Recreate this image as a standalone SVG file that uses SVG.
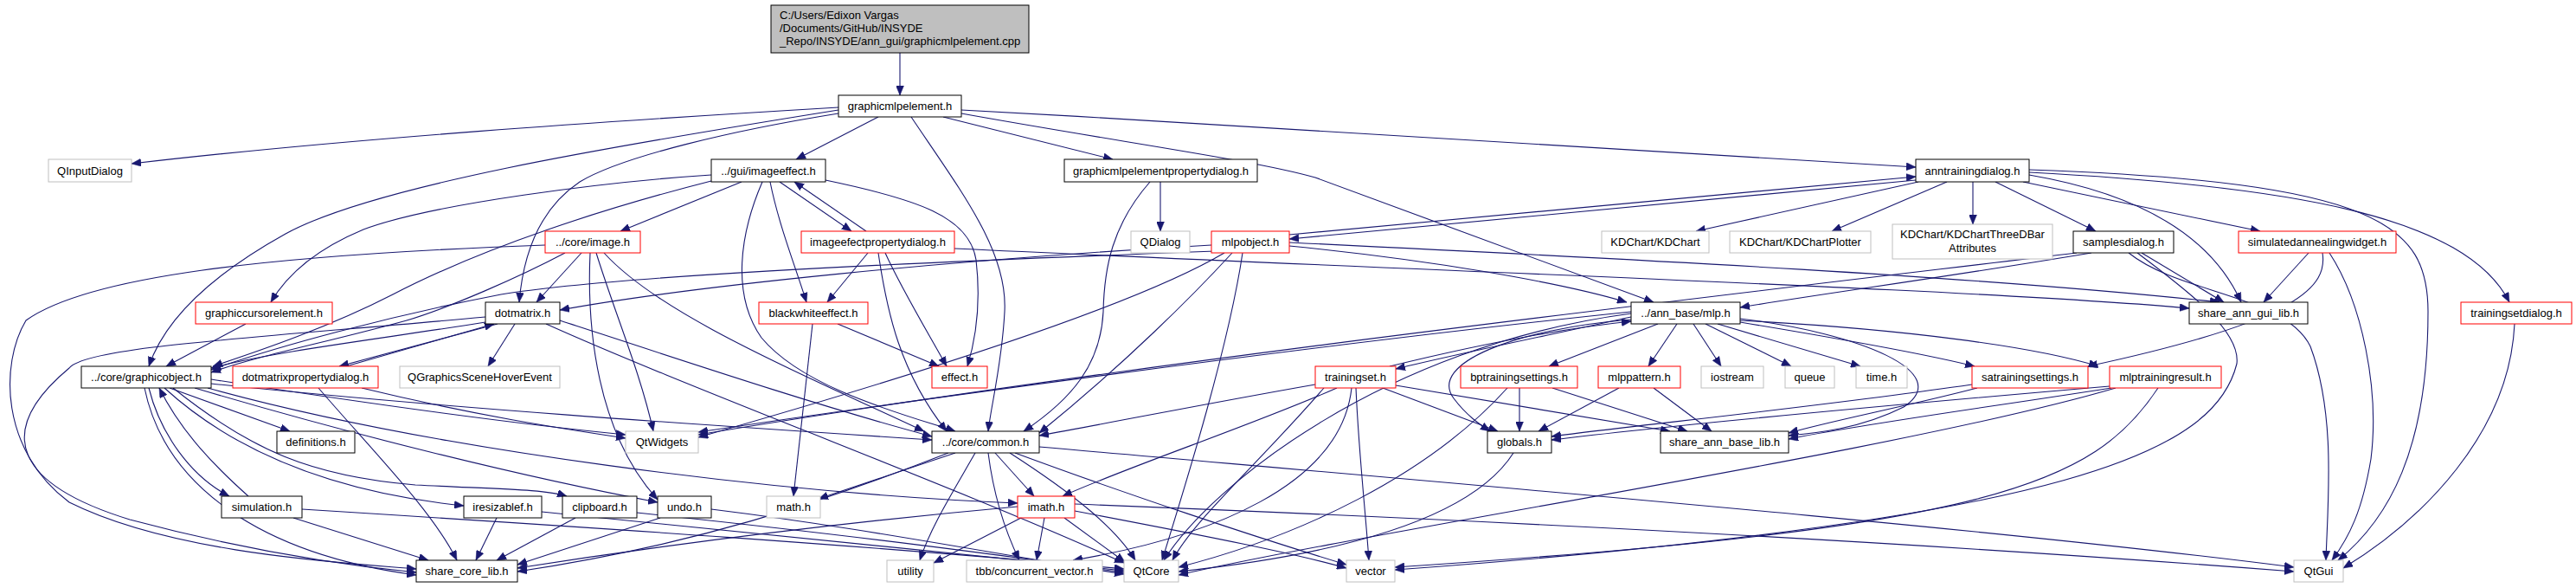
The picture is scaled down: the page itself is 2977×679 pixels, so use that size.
<svg xmlns="http://www.w3.org/2000/svg" width="2977" height="679" viewBox="0 0 2977 679">
<style>
.nd rect{fill:#ffffff;stroke:#000000;stroke-width:1}
.nd.red rect{stroke:#ff0000}
.nd.gray rect{stroke:#bfbfbf}
.nd.root rect{fill:#bfbfbf}
text{font-family:"Liberation Sans",Arial,Helvetica,sans-serif;font-size:13px;fill:#000;text-anchor:middle}
.nd.root text{text-anchor:start}
#edges path{fill:none;stroke:#191970;stroke-width:1.1}
</style>
<defs>
<marker id="ah" markerUnits="userSpaceOnUse" markerWidth="12" markerHeight="9" refX="11" refY="4.5" orient="auto">
<path d="M0,0 L11,4.5 L0,9 z" fill="#191970" stroke="#191970" stroke-width="0.5"/>
</marker>
</defs>
<rect x="0" y="0" width="2977" height="679" fill="#ffffff"/>
<g id="edges" marker-end="url(#ah)">
<path d="M1040,61 L1040,110"/>
<path d="M969,124 C700,140 400,160 152,189"/>
<path d="M969,127 C700,170 430,215 330,270 C240,320 190,370 172,423"/>
<path d="M969,131 C850,150 720,180 670,210 C625,240 605,290 600,349"/>
<path d="M1015,135 L920,184"/>
<path d="M1090,135 L1286,184"/>
<path d="M1053,135 C1110,220 1165,290 1161,360 C1158,420 1145,470 1142,498"/>
<path d="M1111,127 C1500,148 1900,172 2214,193"/>
<path d="M1111,131 C1300,165 1450,185 1520,205 L1911,349"/>
<path d="M857,210 L717,267"/>
<path d="M822,202 C700,210 500,235 420,265 C360,290 330,320 313,349"/>
<path d="M822,209 C700,240 560,285 454,340 C380,378 300,405 246,423"/>
<path d="M901,210 L984,267"/>
<path d="M1001,267 L918,210"/>
<path d="M890,210 C900,260 920,310 932,349"/>
<path d="M954,208 C1060,230 1120,250 1128,300 C1135,360 1125,400 1118,423"/>
<path d="M881,210 C855,270 845,340 880,390 C930,450 1050,480 1104,498"/>
<path d="M1003,292 L956,349"/>
<path d="M1015,292 C1025,360 1040,430 1094,498"/>
<path d="M1023,292 C1040,330 1070,380 1094,423"/>
<path d="M1103,287 C1700,315 2300,335 2530,356"/>
<path d="M1341,210 L1341,267"/>
<path d="M1329,210 C1285,260 1276,310 1275,360 C1272,420 1240,460 1183,498"/>
<path d="M2214,208 L1490,276"/>
<path d="M1490,271 L2214,204"/>
<path d="M2217,210 L1960,267"/>
<path d="M2250,210 L2117,267"/>
<path d="M2280,210 L2280,259"/>
<path d="M2306,210 L2422,267"/>
<path d="M2338,210 L2612,267"/>
<path d="M2345,202 C2450,220 2550,260 2590,349"/>
<path d="M2345,199 C2650,215 2850,250 2900,349"/>
<path d="M2345,196 C2750,210 2806,260 2806,360 C2806,520 2760,600 2702,647"/>
<path d="M2417,292 C2250,320 2100,340 2011,355"/>
<path d="M2400,292 C2000,340 1300,420 807,502"/>
<path d="M2475,292 L2570,349"/>
<path d="M2460,292 C2520,340 2640,340 2670,400 C2700,480 2690,580 2688,647"/>
<path d="M2470,292 C2520,330 2590,380 2585,420 C2560,520 2400,600 1612,658"/>
<path d="M2668,292 L2616,349"/>
<path d="M2684,292 C2690,330 2660,370 2413,423"/>
<path d="M2692,292 C2730,350 2750,450 2740,530 C2730,590 2715,620 2695,647"/>
<path d="M2906,374 C2900,500 2800,600 2708,656"/>
<path d="M1490,284 C1650,300 1800,325 1880,349"/>
<path d="M1490,280 C1900,300 2300,320 2565,349"/>
<path d="M1424,292 C1380,340 1300,420 1201,500"/>
<path d="M1436,292 C1420,400 1370,560 1343,647"/>
<path d="M1415,292 C1300,360 1000,450 807,505"/>
<path d="M1400,283 C1100,300 800,330 647,358"/>
<path d="M1405,290 C1000,305 700,320 579,340 C450,365 320,400 244,427"/>
<path d="M630,283 C300,295 100,320 30,370 C0,420 0,520 80,580 C200,640 400,650 481,657"/>
<path d="M653,292 C600,320 520,355 470,370 C380,395 300,410 244,430"/>
<path d="M672,292 L620,349"/>
<path d="M682,292 C678,380 690,500 760,577"/>
<path d="M689,292 C710,360 740,430 755,498"/>
<path d="M698,292 C760,360 900,420 1068,498"/>
<path d="M284,374 L192,423"/>
<path d="M561,366 C300,390 100,400 80,425 C-10,500 20,560 150,600 C300,640 420,655 481,661"/>
<path d="M561,372 C450,390 320,405 244,425"/>
<path d="M575,374 L392,423"/>
<path d="M400,423 L571,374"/>
<path d="M595,374 L564,423"/>
<path d="M647,370 C800,420 950,470 1077,504"/>
<path d="M631,374 C800,450 1100,560 1299,650"/>
<path d="M368,448 C430,520 500,590 528,647"/>
<path d="M418,448 C550,480 650,495 723,506"/>
<path d="M196,448 L335,498"/>
<path d="M172,448 C185,500 220,550 265,573"/>
<path d="M287,573 C250,540 210,500 184,448"/>
<path d="M190,448 C280,530 400,570 536,584"/>
<path d="M200,448 C290,520 360,550 480,560 C580,565 630,565 655,573"/>
<path d="M225,448 C400,500 600,550 760,580"/>
<path d="M167,448 C190,560 300,640 481,664"/>
<path d="M244,438 C450,470 600,490 723,502"/>
<path d="M244,443 C500,470 800,490 1077,508"/>
<path d="M240,448 C500,520 900,570 1176,581"/>
<path d="M339,598 L495,647"/>
<path d="M349,588 C700,610 1000,630 1299,657"/>
<path d="M574,598 L550,647"/>
<path d="M626,591 C900,620 1100,640 1299,659"/>
<path d="M665,598 L574,647"/>
<path d="M736,592 C1000,620 1150,640 1299,661"/>
<path d="M763,598 L598,652"/>
<path d="M822,588 C1000,610 1150,640 1299,663"/>
<path d="M968,374 L1085,423"/>
<path d="M939,374 L917,573"/>
<path d="M1104,523 L946,576"/>
<path d="M1127,523 C1100,570 1075,610 1063,647"/>
<path d="M1142,523 C1148,570 1160,610 1178,647"/>
<path d="M1150,523 L1195,573"/>
<path d="M1167,523 C1240,570 1290,610 1312,647"/>
<path d="M1173,523 C1300,570 1450,620 1556,652"/>
<path d="M1201,516 C1700,560 2300,610 2651,655"/>
<path d="M1096,523 C950,580 800,630 598,660"/>
<path d="M1180,598 L1079,650"/>
<path d="M1207,598 L1198,647"/>
<path d="M1230,598 L1300,649"/>
<path d="M1242,590 C1400,620 1500,640 1556,656"/>
<path d="M1176,585 C900,610 700,640 598,656"/>
<path d="M1242,582 C1700,600 2200,625 2651,660"/>
<path d="M1885,366 C1800,385 1700,405 1613,426"/>
<path d="M1606,423 C1700,400 1800,380 1885,371"/>
<path d="M1598,448 L1731,498"/>
<path d="M1613,445 L1930,498"/>
<path d="M1520,444 C1400,465 1300,485 1201,503"/>
<path d="M1545,448 C1450,490 1300,540 1228,573"/>
<path d="M1567,448 C1570,520 1578,590 1582,647"/>
<path d="M1562,448 C1550,560 1400,620 1240,647"/>
<path d="M1530,448 C1450,540 1380,600 1355,647"/>
<path d="M1916,374 L1790,423"/>
<path d="M1938,374 L1905,423"/>
<path d="M1957,374 L1989,423"/>
<path d="M1971,374 L2070,423"/>
<path d="M1985,374 L2150,423"/>
<path d="M1885,369 C1750,380 1650,420 1680,460 C1695,480 1710,490 1722,498"/>
<path d="M2011,368 C2150,385 2260,430 2200,470 C2150,495 2100,500 2067,503"/>
<path d="M2011,372 C2150,395 2230,410 2282,423"/>
<path d="M2011,370 C2200,380 2350,400 2425,423"/>
<path d="M1885,362 C1600,400 1400,560 1345,647"/>
<path d="M1885,360 C1500,400 1000,470 807,499"/>
<path d="M1749,523 C1700,600 1550,640 1362,660"/>
<path d="M1756,448 L1756,498"/>
<path d="M1794,448 L1950,498"/>
<path d="M1742,448 C1650,550 1500,620 1362,655"/>
<path d="M1871,448 L1778,498"/>
<path d="M1911,448 L1978,498"/>
<path d="M2279,444 C2100,470 1900,490 1793,504"/>
<path d="M2285,448 C2200,470 2120,485 2067,500"/>
<path d="M2438,446 C2100,475 1900,495 1793,508"/>
<path d="M2440,448 C2300,470 2150,490 2067,507"/>
<path d="M2445,448 C2200,520 1600,610 1362,664"/>
<path d="M2494,448 C2420,560 2300,610 1612,655"/>
</g>
<g id="n_root" class="nd root"><rect x="891" y="6" width="298" height="55"/><text x="901" y="21.5">C:/Users/Edixon Vargas</text><text x="901" y="36.5">/Documents/GitHub/INSYDE</text><text x="901" y="51.5">_Repo/INSYDE/ann_gui/graphicmlpelement.cpp</text></g>
<g id="n_graphicmlpelement" class="nd"><rect x="969" y="110" width="142" height="25"/><text x="1040" y="127">graphicmlpelement.h</text></g>
<g id="n_qinputdialog" class="nd gray"><rect x="56" y="184" width="96" height="26"/><text x="104" y="201.5">QInputDialog</text></g>
<g id="n_imageeffect" class="nd"><rect x="822" y="184" width="132" height="26"/><text x="888" y="201.5">../gui/imageeffect.h</text></g>
<g id="n_gmlpepd" class="nd"><rect x="1230" y="184" width="223" height="26"/><text x="1341.5" y="201.5">graphicmlpelementpropertydialog.h</text></g>
<g id="n_anntrainingdialog" class="nd"><rect x="2214" y="184" width="131" height="26"/><text x="2279.5" y="201.5">anntrainingdialog.h</text></g>
<g id="n_image" class="nd red"><rect x="630" y="267" width="110" height="25"/><text x="685" y="284">../core/image.h</text></g>
<g id="n_imageefectpd" class="nd red"><rect x="926" y="267" width="177" height="25"/><text x="1014.5" y="284">imageefectpropertydialog.h</text></g>
<g id="n_qdialog" class="nd gray"><rect x="1307" y="267" width="68" height="25"/><text x="1341" y="284">QDialog</text></g>
<g id="n_mlpobject" class="nd red"><rect x="1400" y="267" width="90" height="25"/><text x="1445" y="284">mlpobject.h</text></g>
<g id="n_kdchart" class="nd gray"><rect x="1851" y="267" width="124" height="25"/><text x="1913" y="284">KDChart/KDChart</text></g>
<g id="n_kdchartplotter" class="nd gray"><rect x="1999" y="267" width="163" height="25"/><text x="2080.5" y="284">KDChart/KDChartPlotter</text></g>
<g id="n_kdchart3d" class="nd gray"><rect x="2187" y="259" width="185" height="40"/><text x="2279.5" y="275">KDChart/KDChartThreeDBar</text><text x="2279.5" y="291">Attributes</text></g>
<g id="n_samplesdialog" class="nd"><rect x="2396" y="267" width="116" height="25"/><text x="2454" y="284">samplesdialog.h</text></g>
<g id="n_saw" class="nd red"><rect x="2587" y="267" width="182" height="25"/><text x="2678" y="284">simulatedannealingwidget.h</text></g>
<g id="n_graphiccursorelement" class="nd red"><rect x="226" y="349" width="158" height="25"/><text x="305" y="366">graphiccursorelement.h</text></g>
<g id="n_dotmatrix" class="nd"><rect x="561" y="349" width="86" height="25"/><text x="604" y="366">dotmatrix.h</text></g>
<g id="n_blackwhiteeffect" class="nd red"><rect x="877" y="349" width="126" height="25"/><text x="940" y="366">blackwhiteeffect.h</text></g>
<g id="n_mlp" class="nd"><rect x="1885" y="349" width="126" height="25"/><text x="1948" y="366">../ann_base/mlp.h</text></g>
<g id="n_share_ann_gui_lib" class="nd"><rect x="2530" y="349" width="137" height="25"/><text x="2598.5" y="366">share_ann_gui_lib.h</text></g>
<g id="n_trainingsetdialog" class="nd red"><rect x="2844" y="349" width="128" height="25"/><text x="2908" y="366">trainingsetdialog.h</text></g>
<g id="n_graphicobject" class="nd"><rect x="94" y="423" width="150" height="25"/><text x="169" y="440">../core/graphicobject.h</text></g>
<g id="n_dotmatrixpd" class="nd red"><rect x="269" y="423" width="168" height="25"/><text x="353" y="440">dotmatrixpropertydialog.h</text></g>
<g id="n_qgshe" class="nd gray"><rect x="462" y="423" width="185" height="25"/><text x="554.5" y="440">QGraphicsSceneHoverEvent</text></g>
<g id="n_effect" class="nd red"><rect x="1077" y="423" width="64" height="25"/><text x="1109" y="440">effect.h</text></g>
<g id="n_trainingset" class="nd red"><rect x="1520" y="423" width="93" height="25"/><text x="1566.5" y="440">trainingset.h</text></g>
<g id="n_bptrainingsettings" class="nd red"><rect x="1688" y="423" width="135" height="25"/><text x="1755.5" y="440">bptrainingsettings.h</text></g>
<g id="n_mlppattern" class="nd red"><rect x="1847" y="423" width="95" height="25"/><text x="1894.5" y="440">mlppattern.h</text></g>
<g id="n_iostream" class="nd gray"><rect x="1966" y="423" width="72" height="25"/><text x="2002" y="440">iostream</text></g>
<g id="n_queue" class="nd gray"><rect x="2063" y="423" width="57" height="25"/><text x="2091.5" y="440">queue</text></g>
<g id="n_time" class="nd gray"><rect x="2145" y="423" width="59" height="25"/><text x="2174.5" y="440">time.h</text></g>
<g id="n_satrainingsettings" class="nd red"><rect x="2279" y="423" width="134" height="25"/><text x="2346" y="440">satrainingsettings.h</text></g>
<g id="n_mlptrainingresult" class="nd red"><rect x="2438" y="423" width="129" height="25"/><text x="2502.5" y="440">mlptrainingresult.h</text></g>
<g id="n_definitions" class="nd"><rect x="320" y="498" width="90" height="25"/><text x="365" y="515">definitions.h</text></g>
<g id="n_qtwidgets" class="nd gray"><rect x="723" y="498" width="84" height="25"/><text x="765" y="515">QtWidgets</text></g>
<g id="n_common" class="nd"><rect x="1077" y="498" width="124" height="25"/><text x="1139" y="515">../core/common.h</text></g>
<g id="n_globals" class="nd"><rect x="1719" y="498" width="74" height="25"/><text x="1756" y="515">globals.h</text></g>
<g id="n_share_ann_base_lib" class="nd"><rect x="1919" y="498" width="148" height="25"/><text x="1993" y="515">share_ann_base_lib.h</text></g>
<g id="n_simulation" class="nd"><rect x="256" y="573" width="93" height="25"/><text x="302.5" y="590">simulation.h</text></g>
<g id="n_iresizablef" class="nd"><rect x="536" y="573" width="90" height="25"/><text x="581" y="590">iresizablef.h</text></g>
<g id="n_clipboard" class="nd"><rect x="650" y="573" width="86" height="25"/><text x="693" y="590">clipboard.h</text></g>
<g id="n_undo" class="nd"><rect x="760" y="573" width="62" height="25"/><text x="791" y="590">undo.h</text></g>
<g id="n_math" class="nd gray"><rect x="886" y="573" width="62" height="25"/><text x="917" y="590">math.h</text></g>
<g id="n_imath" class="nd red"><rect x="1176" y="573" width="66" height="25"/><text x="1209" y="590">imath.h</text></g>
<g id="n_share_core_lib" class="nd"><rect x="481" y="647" width="117" height="25"/><text x="539.5" y="664">share_core_lib.h</text></g>
<g id="n_utility" class="nd gray"><rect x="1025" y="647" width="54" height="25"/><text x="1052" y="664">utility</text></g>
<g id="n_tbb" class="nd gray"><rect x="1117" y="647" width="157" height="25"/><text x="1195.5" y="664">tbb/concurrent_vector.h</text></g>
<g id="n_qtcore" class="nd gray"><rect x="1299" y="647" width="63" height="25"/><text x="1330.5" y="664">QtCore</text></g>
<g id="n_vector" class="nd gray"><rect x="1556" y="647" width="56" height="25"/><text x="1584" y="664">vector</text></g>
<g id="n_qtgui" class="nd gray"><rect x="2651" y="647" width="57" height="25"/><text x="2679.5" y="664">QtGui</text></g>
</svg>
